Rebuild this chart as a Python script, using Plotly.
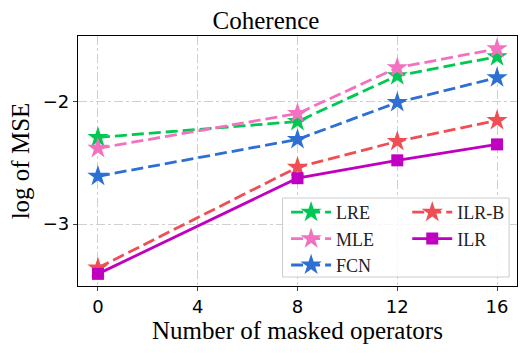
import plotly.graph_objects as go

masked = [0, 8, 12, 16]
lre = [-2.293, -2.163, -1.789, -1.634]
mle = [-2.382, -2.098, -1.724, -1.569]
fcn = [-2.61, -2.309, -2.008, -1.805]
ilr_b = [-3.358, -2.537, -2.325, -2.154]
ilr = [-3.407, -2.626, -2.48, -2.35]

x_ticks = [0, 4, 8, 12, 16]
y_ticks = [-3, -2]
y_ticklabels = ["\u22123", "\u22122"]

serif = "Liberation Serif, Times New Roman, serif"
sans = "DejaVu Sans"

fig = go.Figure()

# (name, values, colour, dash, symbol, legend)
series = [
    ("LRE", lre, "#00c853", "dash", "star", "legend"),
    ("MLE", mle, "#f272bf", "dash", "star", "legend"),
    ("FCN", fcn, "#2e6fd4", "dash", "star", "legend"),
    ("ILR-B", ilr_b, "#f04e55", "dash", "star", "legend2"),
    ("ILR", ilr, "#c000c0", "solid", "square", "legend2"),
]

for name, vals, col, dash, sym, leg in series:
    fig.add_trace(go.Scatter(
        x=masked, y=vals, name=name, mode="lines+markers",
        line=dict(color=col, width=2.8, dash="solid" if dash == "solid" else "12px,5px"),
        marker=dict(symbol=sym, size=16 if sym == "star" else 12, color=col),
        legend=leg,
    ))

# legend frame
fig.add_shape(type="rect", xref="paper", yref="paper",
              x0=0.466, x1=0.982, y0=0.036, y1=0.352,
              line=dict(color="#cccccc", width=1), fillcolor="rgba(255,255,255,0.85)",
              layer="above")

leg_common = dict(bgcolor="rgba(0,0,0,0)", font=dict(family=serif, size=18, color="#222"),
                  yanchor="top", xanchor="left", tracegroupgap=0, itemwidth=40)

fig.update_layout(
    width=532, height=354,
    margin=dict(l=78, r=15, t=36, b=68, autoexpand=False),
    plot_bgcolor="white", paper_bgcolor="white",
    title=dict(text="Coherence", x=0.5, xanchor="center", y=0.943, yanchor="middle",
               font=dict(family=serif, size=25, color="black")),
    legend=dict(x=0.474, y=0.368, **leg_common),
    legend2=dict(x=0.75, y=0.368, **leg_common),
)

fig.update_xaxes(
    range=[-0.8, 16.8], tickvals=x_ticks, ticks="outside", ticklen=4, automargin=False,
    tickfont=dict(family=sans, size=18, color="black"),
    title=dict(text="Number of masked operators", font=dict(family=serif, size=25, color="black"), standoff=2),
    showline=True, linecolor="black", linewidth=1.2, mirror=True,
    showgrid=True, gridcolor="#d0d0d0", griddash="dashdot", gridwidth=1, zeroline=False,
)
fig.update_yaxes(
    range=[-3.506, -1.465], tickvals=y_ticks, ticktext=y_ticklabels, ticks="outside", ticklen=4, automargin=False,
    tickfont=dict(family=sans, size=18, color="black"),
    title=dict(text="log of MSE", font=dict(family=serif, size=25, color="black"), standoff=6),
    showline=True, linecolor="black", linewidth=1.2, mirror=True,
    showgrid=True, gridcolor="#d0d0d0", griddash="dashdot", gridwidth=1, zeroline=False,
)

# the page body has a default 8px margin; drop it so the figure sits at the window origin
fig.write_html("out.html", config={"displayModeBar": False},
               post_script="document.body.style.margin='0';")
